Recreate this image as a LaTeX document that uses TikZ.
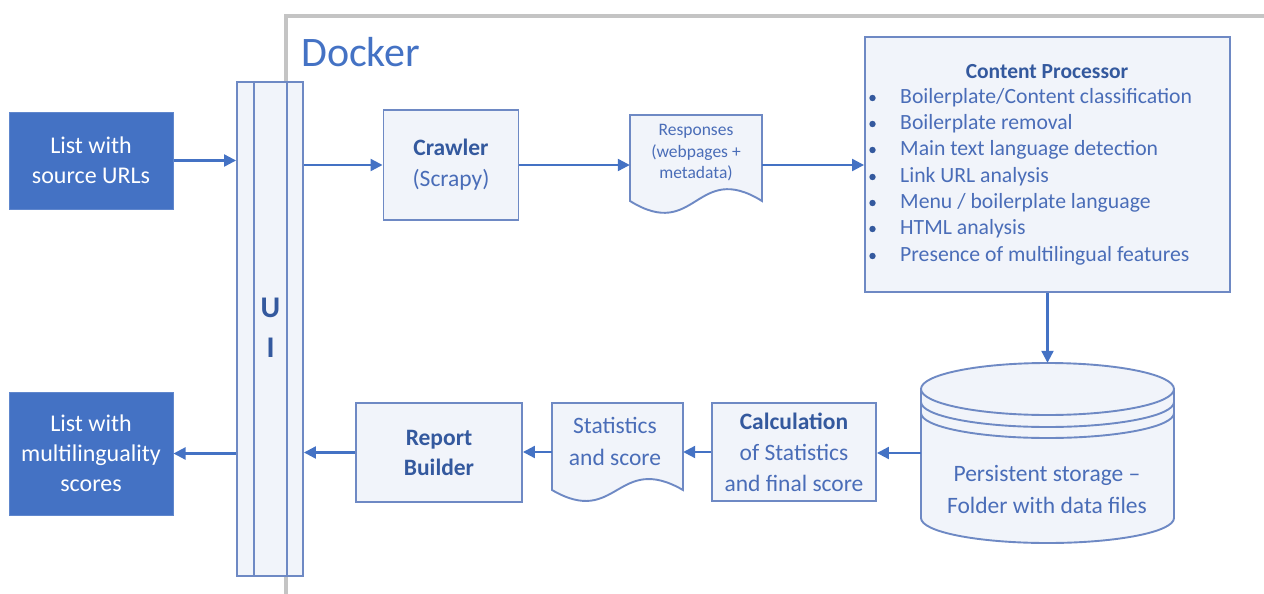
\documentclass[tikz,border=0pt]{standalone}
\usepackage{fontspec}
\setmainfont{Carlito}
\usetikzlibrary{arrows.meta,calc}
\definecolor{accent}{HTML}{4472C4}
\definecolor{boxline}{HTML}{6E89C4}
\definecolor{boxfill}{HTML}{F1F4FA}
\definecolor{txt}{HTML}{4A6DB8}
\definecolor{txtb}{HTML}{34599E}
\definecolor{dockergray}{HTML}{C4C4C4}
\tikzset{
  srcbox/.style={fill=accent, draw=accent!85!white, line width=1pt, text=white, align=center, inner sep=0pt, font=\fontsize{24}{30}\selectfont},
  procbox/.style={draw=boxline, fill=boxfill, line width=1.9pt, align=center, inner sep=0pt, text=txt, font=\fontsize{23.5}{31}\selectfont},
  ghost/.style={inner sep=0pt, align=center, text=txt},
  conn/.style={draw=accent, line width=2.2pt, -{Triangle[length=12pt,width=12pt]}},
  doclines/.style={draw=boxline, fill=boxfill, line width=1.9pt},
  plainline/.style={draw=boxline, line width=1.9pt},
  uitext/.style={text=txtb, font=\bfseries\fontsize{30}{32}\selectfont, inner sep=0pt},
}
\begin{document}
\begin{tikzpicture}[x=1pt,y=-1pt]
\useasboundingbox (0,0) rectangle (1264,594);
% Docker frame
\draw[dockergray, line width=3.2pt] (286,600) -- (286,16) -- (1270,16);
\node[anchor=west, text=accent, inner sep=0pt, font=\fontsize{42}{46}\selectfont] (docker) at (301,52) {Docker};

% input/output lists
\node[srcbox, minimum width=164, minimum height=97] (src) at (91,160.5) {List with\\source URLs};
\node[srcbox, minimum width=164, minimum height=123] (out) at (91,453.5) {List with\\multilinguality\\scores};

% UI bar
\node[draw=boxline, fill=boxfill, line width=1.9pt, minimum width=66, minimum height=494, inner sep=0pt] (ui) at (270,329) {};
\draw[plainline] (254,82) -- (254,576);
\draw[plainline] (287,82) -- (287,576);
\node[uitext] (uiU) at (270.5,308) {U};
\node[uitext] (uiI) at (270.5,348) {I};

% Crawler
\node[procbox, minimum width=135, minimum height=110] (crawler) at (451,165) {\textcolor{txtb}{\bfseries Crawler}\\(Scrapy)};

% Responses document
\node[ghost, minimum width=132, minimum height=100] (resp) at (696,165) {};
\draw[doclines] (630,115) -- (762,115) -- (762,201)
  .. controls (696,160) and (696,242) .. (630,201) -- cycle;
\node[ghost, font=\fontsize{17.5}{21.5}\selectfont] (resptxt) at (696,153) {Responses\\(webpages +\\metadata)};

% Content Processor
\node[procbox, minimum width=365, minimum height=255] (cp) at (1047.5,164.5) {};
\node[text=txtb, inner sep=0pt, font=\bfseries\fontsize{21.5}{24}\selectfont] (cptitle) at (1047,72) {Content Processor};
\foreach \i/\t/\yy in {1/{Boilerplate/Content classification}/98,
                       2/{Boilerplate removal}/124,
                       3/{Main text language detection}/150,
                       4/{Link URL analysis}/177,
                       5/{Menu / boilerplate language}/203,
                       6/{HTML analysis}/229,
                       7/{Presence of multilingual features}/256}{
  \fill[txtb] (872.5,\yy) circle (3.2);
  \node[anchor=west, text=txt, inner sep=0pt, font=\fontsize{21.7}{26}\selectfont] (cpi\i) at (900,\yy) {\t};
}

% Storage cylinder
\node[ghost, minimum width=253, minimum height=180] (store) at (1047.5,453) {};
\draw[doclines] (921,389) -- (921,518) arc[start angle=180, end angle=0, x radius=126.5, y radius=25] -- (1174,389)
  arc[start angle=0, end angle=-180, x radius=126.5, y radius=26] -- cycle;
\draw[plainline] (921,389) arc[start angle=180, end angle=0, x radius=126.5, y radius=26];
\draw[plainline] (921,402) arc[start angle=180, end angle=0, x radius=126.5, y radius=25];
\draw[plainline] (921,413) arc[start angle=180, end angle=0, x radius=126.5, y radius=25];
\node[ghost, font=\fontsize{23.5}{32}\selectfont] (storetxt) at (1047,489) {Persistent storage --\\Folder with data files};

% Calculation
\node[procbox, minimum width=164, minimum height=98] (calc) at (794,452) {\textcolor{txtb}{\bfseries Calculation}\\of Statistics\\and final score};

% Statistics document
\node[ghost, minimum width=131, minimum height=98] (stats) at (617.5,452) {};
\draw[doclines] (552,403) -- (683,403) -- (683,490)
  .. controls (617,452) and (617,528) .. (552,490) -- cycle;
\node[ghost, font=\fontsize{23.5}{32}\selectfont] (statstxt) at (615,441) {Statistics\\and score};

% Report Builder
\node[procbox, minimum width=166, minimum height=99, text=txtb, font=\bfseries\fontsize{23.5}{30}\selectfont] (rb) at (439,452.5) {Report\\Builder};

% connectors
\draw[conn] (src.east) -- (src.east -| ui.west);
\draw[conn] (crawler.west -| ui.east) -- (crawler.west);
\draw[conn] (crawler.east) -- (resp.west);
\draw[conn] (resp.east) -- (resp.east -| cp.west);
\draw[conn] (cp.south) -- (store.north);
\draw[conn] (store.west) -- (store.west -| calc.east);
\draw[conn] (calc.west) -- (calc.west -| stats.east);
\draw[conn] (stats.west) -- (stats.west -| rb.east);
\draw[conn] (rb.west) -- (rb.west -| ui.east);
\draw[conn] (ui.west |- out.east) -- (out.east);
\end{tikzpicture}
\end{document}
